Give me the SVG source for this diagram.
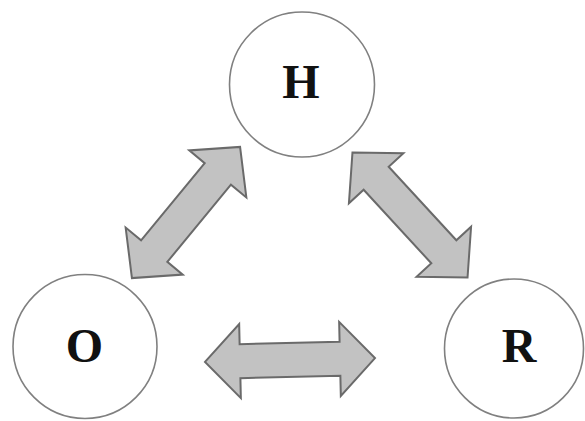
<svg xmlns="http://www.w3.org/2000/svg" width="585" height="421" viewBox="0 0 585 421">
  <style>
    .node circle { fill: #ffffff; stroke: #808080; stroke-width: 1.6; }
    .node text { font-family: "Liberation Serif", "Times New Roman", serif; font-weight: bold; font-size: 48px; fill: #111111; text-anchor: middle; }
    .arrow { fill: #c2c2c2; stroke: #6a6a6a; stroke-width: 2; stroke-linejoin: miter; }
  </style>
  <defs>
    <path id="dblArrow" class="arrow" d="M -85 0 L -50 -37 L -50 -17 L 50 -17 L 50 -37 L 85 0 L 50 37 L 50 17 L -50 17 L -50 37 Z"/>
  </defs>
  <rect x="0" y="0" width="585" height="421" fill="#ffffff"/>
  <g id="connectors">
    <use href="#dblArrow" transform="translate(186,212.5) rotate(-50.5)"/>
    <use href="#dblArrow" transform="translate(410,215) rotate(47.4)"/>
    <use href="#dblArrow" transform="translate(290,360) rotate(-1.3)"/>
  </g>
  <g id="node-H" class="node">
    <circle cx="302" cy="84.5" r="72.5"/>
    <text x="301" y="98">H</text>
  </g>
  <g id="node-O" class="node">
    <circle cx="85" cy="346.5" r="72"/>
    <text x="84.5" y="362">O</text>
  </g>
  <g id="node-R" class="node">
    <circle cx="514" cy="348.5" r="69.5"/>
    <text x="519" y="362">R</text>
  </g>
</svg>
